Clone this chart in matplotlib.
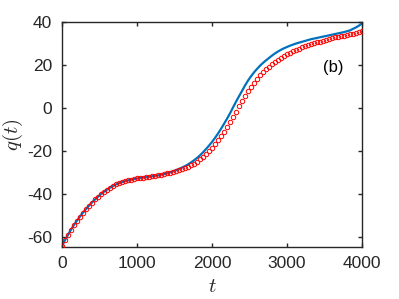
import matplotlib
matplotlib.use("Agg")
import matplotlib.pyplot as plt
import numpy as np

# time samples (one red marker every 40 time units)
t = np.arange(0, 4001, 40)

# exact solution (blue line)
q_exact = [
    -64.0, -61.3, -58.8, -56.4, -54.2, -52.2, -50.3, -48.5, -46.9, -45.3,
    -43.8, -42.4, -41.1, -39.9, -38.8, -37.8, -36.9, -36.1, -35.4, -34.8,
    -34.3, -33.9, -33.5, -33.2, -32.9, -32.6, -32.4, -32.2, -32.0, -31.8,
    -31.6, -31.4, -31.2, -30.9, -30.6, -30.2, -29.8, -29.3, -28.8, -28.2,
    -27.6, -26.9, -26.1, -25.2, -24.2, -23.1, -21.9, -20.5, -19.0, -17.4,
    -15.7, -13.8, -11.8, -9.6, -7.3, -4.9, -2.4, 0.3, 3.0, 5.5,
    8.0, 10.5, 12.8, 14.8, 16.6, 18.2, 19.7, 21.0, 22.2, 23.3,
    24.4, 25.4, 26.3, 27.1, 27.8, 28.4, 29.0, 29.5, 30.0, 30.4,
    30.8, 31.2, 31.6, 32.0, 32.3, 32.6, 32.9, 33.2, 33.5, 33.8,
    34.1, 34.4, 34.7, 35.0, 35.3, 35.7, 36.1, 36.8, 37.5, 38.3,
    39.4,
]

# approximation (red circles)
q_approx = [
    -64.0, -61.3, -58.8, -56.4, -54.2, -52.2, -50.3, -48.5, -46.9, -45.3,
    -43.8, -42.4, -41.1, -39.9, -38.8, -37.8, -36.9, -36.1, -35.4, -34.8,
    -34.3, -33.9, -33.5, -33.2, -32.9, -32.6, -32.4, -32.2, -32.0, -31.8,
    -31.6, -31.4, -31.2, -30.9, -30.6, -30.3, -29.9, -29.5, -29.1, -28.8,
    -28.3, -27.8, -27.2, -26.5, -25.7, -24.8, -23.8, -22.6, -21.3, -19.9,
    -18.4, -16.8, -15.0, -13.0, -10.9, -8.7, -6.5, -4.1, -1.6, 0.9,
    3.3, 5.6, 7.8, 9.9, 11.9, 13.7, 15.3, 16.8, 18.1, 19.3,
    20.4, 21.4, 22.3, 23.2, 24.0, 25.0, 25.7, 26.4, 27.0, 27.6,
    28.2, 28.7, 29.2, 29.7, 30.1, 30.5, 30.9, 31.3, 31.7, 32.1,
    32.5, 32.8, 33.1, 33.4, 33.7, 34.0, 34.3, 34.6, 34.9, 35.3,
    35.8,
]

x_ticks = [0, 1000, 2000, 3000, 4000]
y_ticks = [-60, -40, -20, 0, 20, 40]

plt.rcParams["font.family"] = ["Liberation Sans", "DejaVu Sans"]
plt.rcParams["mathtext.fontset"] = "cm"
plt.rcParams["axes.unicode_minus"] = False

fig = plt.figure(figsize=(3.99, 2.99), dpi=100)
ax = fig.add_axes([0.1554, 0.175, 0.7519, 0.7515])

ax.plot(t, q_exact, color="#0072BD", linewidth=1.6, zorder=2)
ax.plot(t, q_approx, "o", markersize=3.2, markerfacecolor="none",
        markeredgecolor="#FF0000", markeredgewidth=0.7, zorder=3)

ax.set_xlim(0, 4000)
ax.set_ylim(-64.3, 40)
ax.set_xticks(x_ticks)
ax.set_yticks(y_ticks)

dark = "#262626"
for s in ax.spines.values():
    s.set_color(dark)
    s.set_linewidth(1.0)
ax.tick_params(direction="in", length=3, width=1.0, colors=dark,
               labelsize=12.5, top=True, right=True, pad=7)

ax.set_xlabel("$t$", fontsize=15, color=dark, labelpad=4)
ax.set_ylabel("$q(t)$", fontsize=15, color=dark, labelpad=2)

ax.text(3613, 19, "(b)", fontsize=12, color="black",
        ha="center", va="center")

fig.savefig("out.png", dpi=100)
